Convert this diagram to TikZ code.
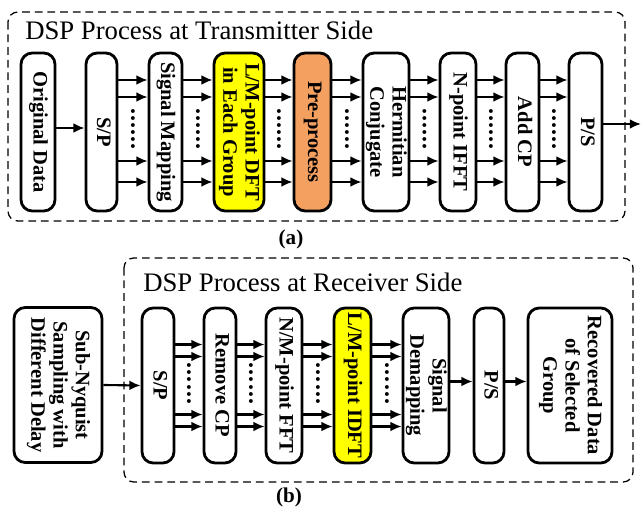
\documentclass[tikz,border=0pt]{standalone}
\usepackage{fontspec}
\setmainfont{Liberation Serif}
\usepackage{graphicx}
\usetikzlibrary{calc,arrows.meta,positioning}
\definecolor{myyellow}{RGB}{255,255,0}
\definecolor{myorange}{RGB}{244,160,96}
\newcommand{\vlabel}[1]{\rotatebox{-90}{\begin{tabular}{@{}c@{}}#1\end{tabular}}}
\newcommand{\mydots}{\rotatebox{-90}{.\kern0.8pt.\kern0.8pt.\kern0.8pt.\kern0.8pt.\kern0.8pt.}}

\begin{document}
\begin{tikzpicture}[
  x=0.025cm, y=-0.025cm,
  myblock/.style 2 args={
    draw,
    rounded corners=8pt,
    line width=2pt,
    minimum width=#1*0.025cm,
    minimum height=#2*0.025cm,
    inner sep=0pt,
    font=\fontsize{14.6}{15.8}\selectfont\bfseries
    },
  myarrow/.style={
    -{Latex[length=8pt,width=7pt]},
    line width=1.5pt
  },
  mydotsnode/.style={
    inner sep=0pt,
    font=\fontsize{17}{18}\selectfont\bfseries
  },
  mygroup/.style={
    line width=0.9pt,
    dash pattern=on 5.5pt off 3.5pt,
    rounded corners=7pt
  },
  mytitle/.style={
    anchor=base west,
    inner sep=0pt,
    font=\fontsize{19}{22}\selectfont
  },
  mycaption/.style={
    font=\fontsize{15}{17}\selectfont\bfseries
  }
]
\useasboundingbox (0,0) rectangle (641,512);

% (a) transmitter side
\draw[mygroup] (8,12) rectangle (625,221);
\node[mytitle] (title1) at (25,40) {DSP Process at Transmitter Side};

\node[myblock={34}{158}] (orig) at (38,132) {\vlabel{Original Data}};
\node[myblock={31}{158}] (sp1) at (101.5,132) {\vlabel{S/P}};
\node[myblock={33}{158}] (map) at (165.5,132) {\vlabel{Signal Mapping}};
\node[myblock={50}{158}, fill=myyellow] (dft) at (239,132) {\vlabel{L/M-point DFT\\in Each Group}};
\node[myblock={37}{158}, fill=myorange] (pre) at (312.5,132) {\vlabel{Pre-process}};
\node[myblock={46}{158}] (herm) at (386,132) {\vlabel{Hermitian\\Conjugate}};
\node[myblock={36}{158}] (ifft) at (458,132) {\vlabel{N-point IFFT}};
\node[myblock={33}{158}] (addcp) at (522.5,132) {\vlabel{Add CP}};
\node[myblock={33}{158}] (ps1) at (585.5,132) {\vlabel{P/S}};
\coordinate (out) at (641,124);

\draw[myarrow] ($(orig.east)+(0,-4)$) -- ($(sp1.west)+(0,-4)$);
\foreach \a/\b in {sp1/map, map/dft, dft/pre, pre/herm, herm/ifft, ifft/addcp, addcp/ps1}{
  \foreach \dy in {-52,-35,29,50}
    \draw[myarrow] ($(\a.east)+(0,\dy)$) -- ($(\b.west)+(0,\dy)$);
  \node[mydotsnode] (dots-\a) at ($(\a.east)!0.5!(\b.west)+(0,-3)$) {\mydots};
}
\draw[myarrow] (ps1.east |- out) -- (out);

\node[mycaption] (laba) at (291,239) {(a)};

% (b) receiver side
\draw[mygroup] (124,258) rectangle (633,482);
\node[mytitle] (title2) at (143,292) {DSP Process at Receiver Side};

\node[myblock={88}{155}] (sub) at (58,385) {\vlabel{Sub-Nyquist\\Sampling with\\Different Delay}};
\node[myblock={32}{155}] (sp2) at (158,385.5) {\vlabel{S/P}};
\node[myblock={32}{155}] (rmcp) at (220,385.5) {\vlabel{Remove CP}};
\node[myblock={36}{155}] (fft) at (284,385.5) {\vlabel{N/M-point FFT}};
\node[myblock={37}{155}, fill=myyellow] (idft) at (352.5,385.5) {\vlabel{L/M-point IDFT}};
\node[myblock={46}{155}] (demap) at (426,385.5) {\vlabel{Signal\\Demapping}};
\node[myblock={30}{155}] (ps2) at (489,385.5) {\vlabel{P/S}};
\node[myblock={84}{155}] (rec) at (570,385.5) {\vlabel{Recovered Data\\of Selected\\Group}};

\draw[myarrow] (sub.east) -- (sp2.west);
\foreach \a/\b in {sp2/rmcp, rmcp/fft, fft/idft, idft/demap}{
  \foreach \dy in {-41,-29,29,41}
    \draw[myarrow] ($(\a.east)+(0,\dy)$) -- ($(\b.west)+(0,\dy)$);
  \node[mydotsnode] (dots-\a) at ($(\a.east)!0.5!(\b.west)+(0,-2)$) {\mydots};
}
\draw[myarrow] ($(demap.east)+(0,-4)$) -- ($(ps2.west)+(0,-4)$);
\draw[myarrow] ($(ps2.east)+(0,-4)$) -- ($(rec.west)+(0,-4)$);

\node[mycaption] (labb) at (289,497) {(b)};
\end{tikzpicture}
\end{document}
